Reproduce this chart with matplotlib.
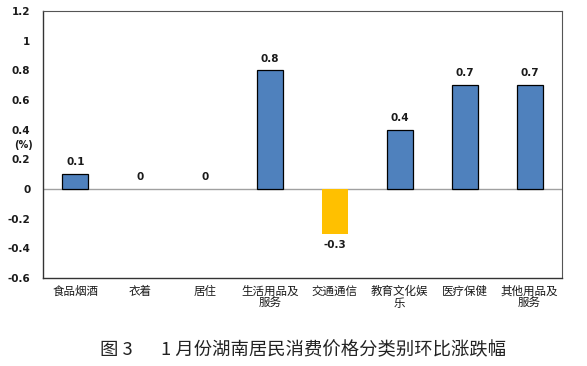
import matplotlib
matplotlib.use("Agg")
import matplotlib.pyplot as plt

# DATA

categories = ["食品烟酒", "衣着", "居住", "生活用品及\n服务", "交通通信",
              "教育文化娱\n乐", "医疗保健", "其他用品及\n服务"]
values = [0.1, 0, 0, 0.8, -0.3, 0.4, 0.7, 0.7]
labels = ["0.1", "0", "0", "0.8", "-0.3", "0.4", "0.7", "0.7"]
yticks = [-0.6, -0.4, -0.2, 0, 0.2, 0.4, 0.6, 0.8, 1, 1.2]
yticklabels = ["-0.6", "-0.4", "-0.2", "0", "0.2", "0.4", "0.6", "0.8", "1", "1.2"]

title_fig = "图 3"
title_text = "1 月份湖南居民消费价格分类别环比涨跌幅"

BLUE = "#4F81BD"
YELLOW = "#FFC000"

plt.rcParams["font.family"] = ["Noto Sans CJK SC", "DejaVu Sans"]

W, H = 587, 366
figure = plt.figure(figsize=(W / 100, H / 100), dpi=100)
axis = figure.add_axes([43 / W, 1 - 278 / H, (562 - 43) / W, (278 - 11) / H])

x = list(range(len(categories)))
colors = [YELLOW if v < 0 else BLUE for v in values]

for xi, v, c in zip(x, values, colors):
    if v == 0:
        continue
    axis.bar(xi, v, width=0.4, color=c,
             edgecolor="black" if v > 0 else "none", linewidth=0.9)

for xi, v, lab in zip(x, values, labels):
    off = -0.045 if v < 0 else 0.045
    va = "top" if v < 0 else "bottom"
    axis.text(xi, v + off, lab, ha="center", va=va, fontsize=7.5,
              fontweight="semibold", color="#1a1a1a", family="DejaVu Sans")

axis.axhline(0, color="#A0A0A0", linewidth=1, zorder=0)

axis.set_xlim(-0.5, len(categories) - 0.5)
axis.set_ylim(-0.6, 1.2)
axis.set_yticks(yticks)
axis.set_yticklabels(yticklabels, family="DejaVu Sans", fontsize=7.5,
                     fontweight="semibold", color="#1a1a1a")
axis.set_xticks(x)
axis.set_xticklabels(categories, fontsize=8.3, linespacing=0.9, color="#1a1a1a")
axis.tick_params(axis="both", length=0, pad=5)
axis.tick_params(axis="y", pad=9)

for side in ["left", "bottom"]:
    axis.spines[side].set_color("#333333")
    axis.spines[side].set_linewidth(1)
for side in ["top", "right"]:
    axis.spines[side].set_color("#555555")
    axis.spines[side].set_linewidth(0.8)

figure.text(14 / W, 1 - 145 / H, "(%)", fontsize=7, fontweight="semibold",
            family="DejaVu Sans", ha="left", va="center", color="#1a1a1a")

figure.text(100 / W, 1 - 350 / H, title_fig, fontsize=13.2, ha="left",
            va="center", color="#222222")
figure.text(161 / W, 1 - 350 / H, title_text, fontsize=13.2, ha="left",
            va="center", color="#222222")

figure.savefig("out.png", dpi=100)
